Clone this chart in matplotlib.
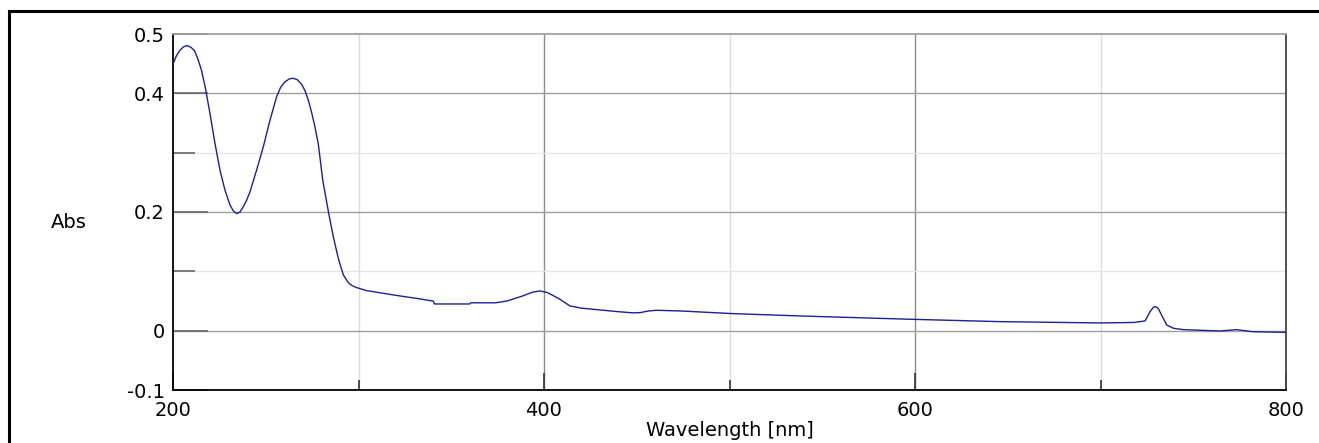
import matplotlib.pyplot as plt
from matplotlib.patches import Rectangle

plt.rcParams.update({"font.family": ["DejaVu Sans"], "font.size": 14})

# absorbance spectrum (wavelength in nm, absorbance)
wavelength = [200.2, 201.8, 203.6, 205.5, 207.5, 209.5, 211.6, 213.4, 215.3, 217.3,
              219.9, 222.6, 225.3, 228.0, 230.7, 232.5, 234.3, 236.1, 237.9, 239.7,
              241.5, 245.1, 248.7, 252.3, 255.9, 258.0, 260.2, 262.5, 264.7, 267.0,
              269.4, 271.2, 272.9, 274.7, 276.5, 278.4, 280.7, 283.8, 286.4, 289.1,
              291.8, 294.5, 296.5, 298.9, 304.3, 313.3, 322.4, 333.2, 338.0, 340.3,
              341.0, 360.0, 360.5, 374.0, 380.0, 388.0, 394.0, 397.8, 402.0, 408.0,
              414.0, 420.0, 430.0, 440.0, 448.0, 452.0, 456.0, 460.7, 475.0, 502.0,
              538.0, 592.0, 646.0, 700.0, 718.0, 724.0, 726.7, 728.5, 729.8, 731.2,
              732.9, 735.7, 739.3, 744.7, 764.4, 773.4, 782.0, 800.0]
absorbance = [0.451, 0.463, 0.472, 0.478, 0.4806, 0.478, 0.472, 0.458, 0.4396, 0.4115,
              0.3666, 0.316, 0.271, 0.237, 0.212, 0.202, 0.1973, 0.200, 0.209, 0.220,
              0.234, 0.271, 0.310, 0.355, 0.3946, 0.410, 0.419, 0.424, 0.4255, 0.423,
              0.415, 0.404, 0.389, 0.368, 0.344, 0.313, 0.254, 0.200, 0.1585, 0.122,
              0.094, 0.081, 0.076, 0.0727, 0.0675, 0.063, 0.0585, 0.0535, 0.051, 0.050,
              0.045, 0.045, 0.047, 0.047, 0.050, 0.058, 0.065, 0.067, 0.064, 0.054,
              0.0417, 0.038, 0.035, 0.032, 0.030, 0.0305, 0.033, 0.0344, 0.033, 0.0287,
              0.0248, 0.0197, 0.0152, 0.013, 0.0138, 0.0164, 0.032, 0.0395, 0.0405, 0.037,
              0.0265, 0.0096, 0.004, 0.0017, -0.0005, 0.0017, -0.0017, -0.0028]

x_major = [200, 400, 600, 800]
x_minor = [300, 500, 700]
y_major = [-0.1, 0, 0.2, 0.4, 0.5]
y_major_labels = ["-0.1", "0", "0.2", "0.4", "0.5"]
y_minor = [0.1, 0.3]

fig = plt.figure(figsize=(13.19, 4.43), dpi=100)
ax = fig.add_axes([173 / 1319, 53 / 443, 1113 / 1319, 356 / 443])

# grid: darker lines on the labelled values, faint ones in between
for v in [400, 600]:
    ax.axvline(v, color="#8c8c8c", lw=1.0, zorder=1)
for v in x_minor:
    ax.axvline(v, color="#dcdcdc", lw=1.0, zorder=1)
for v in [0, 0.2, 0.4]:
    ax.axhline(v, color="#a0a0a0", lw=1.0, zorder=1)
for v in y_minor:
    ax.axhline(v, color="#e6e6e6", lw=1.0, zorder=1)

ax.plot(wavelength, absorbance, color="#1e1e96", lw=1.0, zorder=3)

ax.set_xlim(200, 800)
ax.set_ylim(-0.1, 0.5)
ax.set_xticks(x_major)
ax.set_xticks(x_minor, minor=True)
ax.set_yticks(y_major, y_major_labels)
ax.set_yticks(y_minor, minor=True)
ax.tick_params(axis="x", which="major", direction="in", length=12, width=1.2,
               color="#333333", pad=8)
ax.tick_params(axis="x", which="minor", direction="in", length=7, width=1.2,
               color="#333333")
ax.tick_params(axis="y", which="major", direction="in", length=25, width=1.2,
               color="#666666", pad=6)
ax.tick_params(axis="y", which="minor", direction="in", length=16, width=1.2,
               color="#666666")
ax.tick_params(top=False, right=False)

ax.spines["left"].set_color("black")
ax.spines["bottom"].set_color("black")
ax.spines["right"].set_color("#444444")
ax.spines["top"].set_color("#a0a0a0")
for s in ax.spines.values():
    s.set_linewidth(1.3)

ax.set_xlabel("Wavelength [nm]", labelpad=1)
fig.text(69 / 1319, 1 - 222 / 443, "Abs", ha="center", va="center")

# outer frame, open at the right and bottom edges
fig.patches.append(Rectangle((9 / 1319, -0.2), 1.2, 1.2 - 11 / 443,
                             transform=fig.transFigure, fill=False,
                             edgecolor="black", lw=2.2))

fig.savefig("out.png", dpi=100)
